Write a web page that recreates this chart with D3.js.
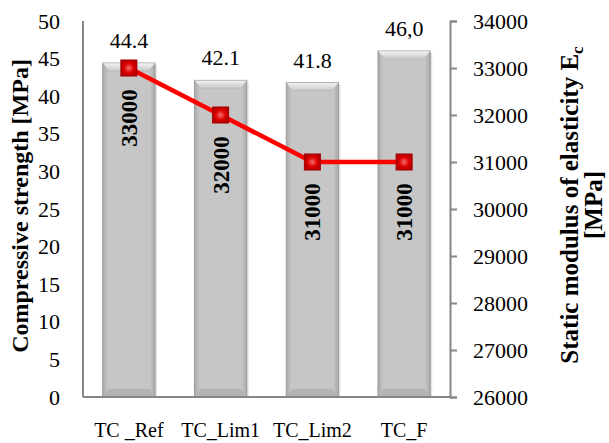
<!DOCTYPE html>
<html>
<head>
<meta charset="utf-8">
<script src="https://cdn.jsdelivr.net/npm/d3@7"></script>
</head>
<body style="margin:0">
<svg id="chart" width="609" height="443"></svg>
<script>
// data
const categories = ['TC _Ref', 'TC_Lim1', 'TC_Lim2', 'TC_F'];
const strength = [44.4, 42.1, 41.8, 46.0];
const strengthLabels = ['44.4', '42.1', '41.8', '46,0'];
const modulus = [33000, 32000, 31000, 31000];
const leftTicks = [0, 5, 10, 15, 20, 25, 30, 35, 40, 45, 50];
const rightTicks = [26000, 27000, 28000, 29000, 30000, 31000, 32000, 33000, 34000];

const margin = { top: 21, left: 83, right: 159, bottom: 46 };
const w = 609 - margin.left - margin.right;
const h = 443 - margin.top - margin.bottom;
const fontFam = '"Liberation Serif", "Times New Roman", Tinos, serif';

const svg = d3.select('#chart');
const defs = svg.append('defs');

const barGrad = defs.append('linearGradient').attr('id', 'barGrad')
  .attr('x1', 0).attr('x2', 1).attr('y1', 0).attr('y2', 0);
barGrad.append('stop').attr('offset', '0%').attr('stop-color', '#a9a9a9');
barGrad.append('stop').attr('offset', '10%').attr('stop-color', '#c6c6c6');
barGrad.append('stop').attr('offset', '90%').attr('stop-color', '#c6c6c6');
barGrad.append('stop').attr('offset', '100%').attr('stop-color', '#a9a9a9');

const topGrad = defs.append('linearGradient').attr('id', 'topGrad')
  .attr('x1', 0).attr('x2', 0).attr('y1', 0).attr('y2', 1);
topGrad.append('stop').attr('offset', '0%').attr('stop-color', '#f4f4f4');
topGrad.append('stop').attr('offset', '100%').attr('stop-color', '#c6c6c6');

const markGrad = defs.append('radialGradient').attr('id', 'markGrad');
markGrad.append('stop').attr('offset', '0%').attr('stop-color', '#f07070');
markGrad.append('stop').attr('offset', '60%').attr('stop-color', '#e00000');
markGrad.append('stop').attr('offset', '100%').attr('stop-color', '#b80000');

const g = svg.append('g').attr('transform', `translate(${margin.left},${margin.top})`);

const x = d3.scaleBand().domain(categories).range([0, w]).paddingInner(0.43).paddingOuter(0.215);
const yL = d3.scaleLinear().domain([0, 50]).range([h, 0]);
const yR = d3.scaleLinear().domain([26000, 34000]).range([h, 0]);

// bars
const bars = g.selectAll('.bar').data(categories).enter().append('g').attr('class', 'bar');
bars.append('rect')
  .attr('x', d => x(d) + 2).attr('y', (d, i) => yL(strength[i]) + 2)
  .attr('width', x.bandwidth()).attr('height', (d, i) => h - yL(strength[i]) - 2)
  .attr('fill', '#e6e6e6');
bars.append('rect')
  .attr('x', d => x(d)).attr('y', (d, i) => yL(strength[i]))
  .attr('width', x.bandwidth()).attr('height', (d, i) => h - yL(strength[i]))
  .attr('fill', 'url(#barGrad)').attr('stroke', '#9c9c9c').attr('stroke-width', 1);
bars.append('path')
  .attr('d', (d, i) => {
    const x0 = x(d), x1 = x(d) + x.bandwidth(), y0 = yL(strength[i]);
    return `M${x0},${y0}L${x1},${y0}L${x1 - 6},${y0 + 8}L${x0 + 6},${y0 + 8}Z`;
  })
  .attr('fill', 'url(#topGrad)').attr('stroke', '#b0b0b0').attr('stroke-width', 0.5);
bars.append('path')
  .attr('d', d => {
    const x0 = x(d), x1 = x(d) + x.bandwidth(), y0 = h;
    return `M${x0},${y0}L${x1},${y0}L${x1 - 6},${y0 - 8}L${x0 + 6},${y0 - 8}Z`;
  })
  .attr('fill', '#b4b4b4');

// value labels above bars
g.selectAll('.vlab').data(categories).enter().append('text')
  .attr('x', d => x(d) + x.bandwidth() / 2)
  .attr('y', (d, i) => yL(strength[i]) - 15)
  .attr('text-anchor', 'middle')
  .style('font-size', '22px').style('font-family', fontFam)
  .text((d, i) => strengthLabels[i]);

// axes lines
g.append('line').attr('x1', 0).attr('x2', 0).attr('y1', 0).attr('y2', h)
  .attr('stroke', '#868686').attr('stroke-width', 2);
g.append('line').attr('x1', 0).attr('x2', w).attr('y1', h).attr('y2', h)
  .attr('stroke', '#868686').attr('stroke-width', 2);

const leftAxis = g.append('g').call(d3.axisLeft(yL).tickValues(leftTicks).tickSize(0).tickPadding(23));
leftAxis.select('.domain').remove();
leftAxis.selectAll('text').attr('fill', '#000').style('font-size', '22px').style('font-family', fontFam);

const rightAxis = g.append('g').attr('transform', `translate(${w},0)`)
  .call(d3.axisRight(yR).tickValues(rightTicks).tickSize(7).tickSizeOuter(7).tickPadding(16).tickFormat(d3.format('d')));
rightAxis.select('.domain').attr('stroke', '#868686').attr('stroke-width', 2);
rightAxis.selectAll('line').attr('stroke', '#868686').attr('stroke-width', 2);
rightAxis.selectAll('text').attr('fill', '#000').style('font-size', '22px').style('font-family', fontFam);

const bottomAxis = g.append('g').attr('transform', `translate(0,${h})`)
  .call(d3.axisBottom(x).tickSize(0).tickPadding(26));
bottomAxis.select('.domain').remove();
bottomAxis.selectAll('text').attr('fill', '#000').style('font-size', '20px').style('font-family', fontFam);

// line series
const line = d3.line()
  .x((d, i) => x(categories[i]) + x.bandwidth() / 2)
  .y(d => yR(d));
g.append('path').datum(modulus).attr('d', line)
  .attr('fill', 'none').attr('stroke', '#ff0000').attr('stroke-width', 4.5);

g.selectAll('.mark').data(modulus).enter().append('rect')
  .attr('x', (d, i) => x(categories[i]) + x.bandwidth() / 2 - 8)
  .attr('y', d => yR(d) - 8)
  .attr('width', 16).attr('height', 16)
  .attr('fill', 'url(#markGrad)').attr('stroke', '#a00000').attr('stroke-width', 1);

// rotated labels in bars
g.selectAll('.mlab').data(modulus).enter().append('text')
  .attr('transform', (d, i) => `translate(${x(categories[i]) + x.bandwidth() / 2 + 8},${yR(d) + 50}) rotate(-90)`)
  .attr('text-anchor', 'middle')
  .style('font-size', '23px').style('font-weight', 'bold').style('font-family', fontFam)
  .text(d => d);

// axis titles
svg.append('text')
  .attr('transform', `translate(28,206) rotate(-90)`)
  .attr('text-anchor', 'middle')
  .style('font-size', '24px').style('font-weight', 'bold').style('font-family', fontFam)
  .text('Compressive strength [MPa]');

const rt = svg.append('text')
  .attr('transform', `translate(578,${margin.top + h / 2 - 4}) rotate(-90)`)
  .attr('text-anchor', 'middle')
  .style('font-size', '25px').style('font-weight', 'bold').style('font-family', fontFam);
rt.append('tspan').text('Static modulus of elasticity E');
rt.append('tspan').style('font-size', '17px').attr('dy', 5).text('c');

svg.append('text')
  .attr('transform', `translate(602,${margin.top + h / 2 - 4}) rotate(-90)`)
  .attr('text-anchor', 'middle')
  .style('font-size', '25px').style('font-weight', 'bold').style('font-family', fontFam)
  .text('[MPa]');
</script>
</body>
</html>
